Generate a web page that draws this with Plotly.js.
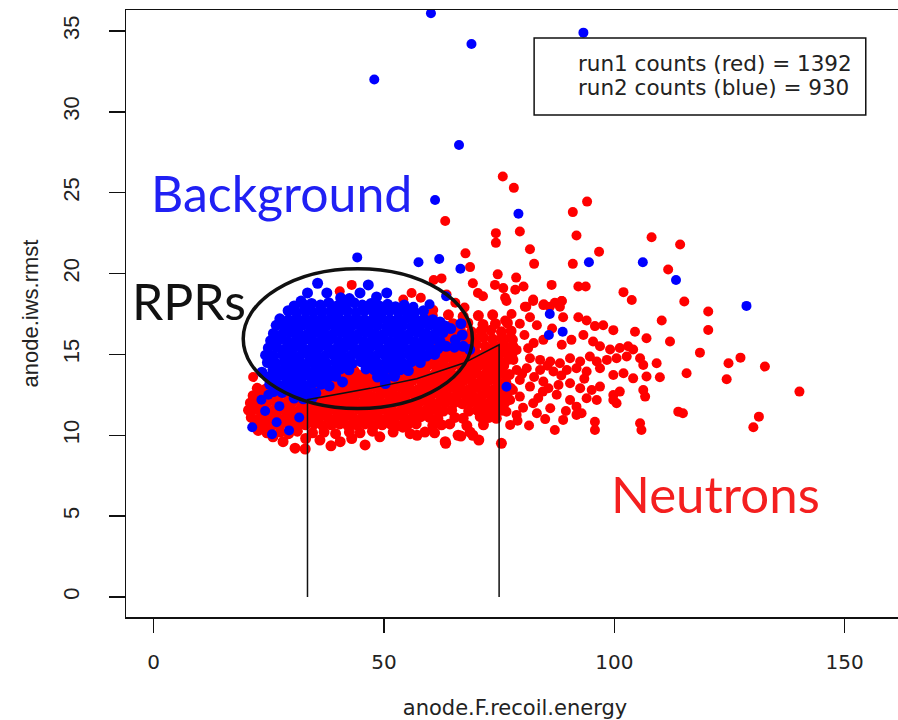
<!DOCTYPE html>
<html>
<head>
<meta charset="utf-8">
<script src="https://cdn.plot.ly/plotly-3.0.1.min.js"></script>
<style>
  html, body { margin: 0; padding: 0; background: #ffffff; overflow: hidden; width: 898px; height: 720px; }
  #plot { width: 910px; height: 720px; }
</style>
</head>
<body>
<div id="plot"></div>
<script>
// Run 2 (blue): dense background cluster, [recoil energy, iws.rmst]
const blueCore = [
  [33.4,18.8],[35.6,19.4],[37.6,18.8],[40.6,18.5],[42.5,18.45],[44.8,18.8],[46.6,19.3],[48.4,18.55],[50.6,18.8],[32.0,18.3],
  [30.5,18.0],[32.5,18.1],[34.3,18.15],[36.2,18.05],[38.0,18.2],[39.8,18.0],[41.7,18.1],[43.5,18.2],[45.3,18.05],[47.2,18.15],[49.0,18.0],[50.8,18.1],[52.5,17.95],[54.4,18.05],
  [29.2,17.7],[31.0,17.6],[32.9,17.7],[34.7,17.6],[36.5,17.7],[38.4,17.65],[40.2,17.6],[42.0,17.7],[43.9,17.6],[45.7,17.7],[47.6,17.65],[49.4,17.6],[51.2,17.7],[53.1,17.6],[54.9,17.65],[56.7,17.6],[58.6,17.7],
  [27.4,17.2],[29.3,17.15],[31.1,17.25],[33.0,17.2],[34.8,17.15],[36.6,17.25],[38.5,17.2],[40.3,17.15],[42.1,17.2],[44.0,17.25],[45.8,17.15],[47.7,17.2],[49.5,17.25],[51.3,17.15],[53.2,17.2],[55.0,17.25],[56.9,17.15],[58.7,17.2],[60.6,17.15],[62.2,17.0],
  [26.6,16.8],[28.4,16.7],[30.3,16.75],[32.1,16.8],[33.9,16.7],[35.8,16.75],[37.6,16.8],[39.4,16.7],[41.3,16.75],[43.1,16.8],[45.0,16.7],[46.8,16.75],[48.6,16.8],[50.5,16.7],[52.3,16.75],[54.1,16.8],[56.0,16.7],[57.8,16.75],[59.7,16.8],[61.5,16.7],[63.3,16.75],[66.7,16.9],
  [26.0,16.3],[27.9,16.25],[29.7,16.35],[31.5,16.3],[33.4,16.25],[35.2,16.35],[37.1,16.3],[38.9,16.25],[40.7,16.35],[42.6,16.3],[44.4,16.25],[46.2,16.35],[48.1,16.3],[49.9,16.25],[51.8,16.35],[53.6,16.3],[55.4,16.25],[57.3,16.35],[59.1,16.3],[61.0,16.25],[62.8,16.35],
  [25.4,15.85],[27.2,15.9],[29.0,15.8],[30.9,15.85],[32.7,15.9],[34.6,15.8],[36.4,15.85],[38.2,15.9],[40.1,15.8],[41.9,15.85],[43.7,15.9],[45.6,15.8],[47.4,15.85],[49.3,15.9],[51.1,15.8],[52.9,15.85],[54.8,15.9],[56.6,15.8],[58.5,15.85],[60.3,15.9],[62.2,15.8],
  [24.9,15.4],[26.7,15.45],[28.6,15.35],[30.4,15.4],[32.2,15.45],[34.1,15.35],[35.9,15.4],[37.8,15.45],[39.6,15.35],[41.4,15.4],[43.3,15.45],[45.1,15.35],[46.9,15.4],[48.8,15.45],[50.6,15.35],[52.5,15.4],[54.3,15.45],[56.1,15.35],[58.0,15.4],[59.8,15.45],[61.7,15.35],[63.5,15.5],[65.3,15.45],[67.2,15.5],[68.6,15.3],
  [24.3,14.95],[26.1,14.9],[28.0,15.0],[29.8,14.95],[31.7,14.9],[33.5,15.0],[35.3,14.95],[37.2,14.9],[39.0,15.0],[40.8,14.95],[42.7,14.9],[44.5,15.0],[46.4,14.95],[48.2,14.9],[50.0,15.0],[51.9,14.95],[53.7,14.9],[55.5,15.0],[57.4,14.95],[59.2,14.9],[61.0,15.0],
  [24.7,14.5],[26.6,14.45],[28.4,14.55],[30.3,14.5],[32.1,14.45],[33.9,14.55],[35.8,14.5],[37.6,14.45],[39.5,14.55],[41.3,14.5],[43.1,14.45],[45.0,14.55],[46.8,14.5],[48.6,14.45],[50.5,14.55],[52.3,14.5],[54.2,14.45],[56.0,14.55],[57.9,14.5],
  [23.5,13.9],[25.9,14.05],[27.7,14.0],[29.5,14.1],[31.4,14.05],[33.2,14.0],[35.1,14.1],[36.9,14.05],[38.7,14.0],[40.6,14.1],[42.4,14.05],[46.1,14.1],[47.9,14.05],[49.8,14.0],[51.6,14.1],[53.5,14.05],[55.3,14.0],
  [24.8,13.6],[26.6,13.55],[28.5,13.65],[30.3,13.6],[32.2,13.55],[34.0,13.65],[35.8,13.6],[37.7,13.55],[39.5,13.65],[48.6,13.6],[50.4,13.55],[52.3,13.65],
  [25.2,13.15],[27.1,13.1],[28.9,13.2],[30.7,13.15],[32.6,13.1],[34.4,13.2],[36.3,13.15],[38.1,13.05],[41.0,13.3],[50.3,13.2],
  [26.0,12.7],[27.9,12.65],[29.7,12.75],[31.6,12.7],[33.4,12.65],[35.2,12.6],
  [30.5,12.3],[32.5,12.25],[34.5,12.35],
  [64.5,16.6],[65.5,15.9],[67.0,16.2]
];

// Run 2 (blue): isolated events
const blueStray = [
  [24.9,12.5],[23.4,12.2],[24.2,11.5],[27.3,11.8],[26.7,10.8],[21.4,10.5],[25.7,10.06],[29.4,10.3],[31.6,11.1],
  [44.2,21.0],[57.5,20.7],[62.0,20.9],[66.6,20.3],[63.5,18.6],[59.9,18.1],[56.4,17.95],
  [76.6,13.0],[86.0,17.5],[85.8,16.2],[88.8,16.4],[113.4,19.6],[128.7,18.0],[94.5,20.7],[106.2,20.7],
  [79.2,23.7],[61.1,24.55],[66.3,27.95],[47.9,32.0],[60.2,36.1],[69.0,34.2],[93.3,34.9]
];

// Run 1 (red): dense neutron band
const redCore = [
  [50.2,14.25],[52.0,14.2],[53.9,14.3],[55.7,14.25],[57.6,14.2],[59.4,14.3],[61.3,14.25],[63.1,14.2],[64.9,14.3],[66.8,14.25],[68.6,14.2],[70.5,14.3],[72.3,14.25],[74.1,14.2],[76.0,14.3],
  [43.5,14.0],[44.5,13.5],[42.0,13.3],[45.5,13.2],
  [40.6,13.8],[42.5,13.85],[44.3,13.75],[46.1,13.8],[48.0,13.85],[49.8,13.75],[51.7,13.8],[53.5,13.85],[55.3,13.75],[57.2,13.8],[59.0,13.85],[60.9,13.75],[62.7,13.8],[64.5,13.85],[66.4,13.75],[68.2,13.8],[70.1,13.85],[71.9,13.75],[73.7,13.8],[75.6,13.85],[77.2,13.75],
  [36.0,13.35],[37.8,13.3],[39.7,13.4],[41.5,13.35],[43.4,13.3],[45.2,13.4],[47.0,13.35],[48.9,13.3],[50.7,13.4],[52.6,13.35],[54.4,13.3],[56.2,13.4],[58.1,13.35],[59.9,13.3],[61.8,13.4],[63.6,13.35],[65.4,13.3],[67.3,13.4],[69.1,13.35],[71.0,13.3],[72.8,13.4],[74.6,13.35],[76.4,13.3],
  [22.5,12.9],[24.3,12.85],[26.2,12.95],[28.0,12.9],[29.9,12.85],[31.7,12.95],[33.5,12.9],[35.4,12.85],[37.2,12.95],[39.1,12.9],[40.9,12.85],[42.7,12.95],[44.6,12.9],[46.4,12.85],[48.3,12.95],[50.1,12.9],[51.9,12.85],[53.8,12.95],[55.6,12.9],[57.5,12.85],[59.3,12.95],[61.1,12.9],[63.0,12.85],[64.8,12.95],[66.7,12.9],[68.5,12.85],[70.3,12.95],[72.2,12.9],[74.0,12.85],[75.9,12.95],[77.5,12.9],
  [21.6,12.45],[23.4,12.5],[25.3,12.4],[27.1,12.45],[29.0,12.5],[30.8,12.4],[32.6,12.45],[34.5,12.5],[36.3,12.4],[38.2,12.45],[40.0,12.5],[41.8,12.4],[43.7,12.45],[45.5,12.5],[47.4,12.4],[49.2,12.45],[51.0,12.5],[52.9,12.4],[54.7,12.45],[56.6,12.5],[58.4,12.4],[60.2,12.45],[62.1,12.5],[63.9,12.4],[65.8,12.45],[67.6,12.5],[69.4,12.4],[71.3,12.45],[73.1,12.5],[75.0,12.4],[76.7,12.45],
  [21.0,12.0],[22.9,11.95],[24.7,12.05],[26.6,12.0],[28.4,11.95],[30.2,12.05],[32.1,12.0],[33.9,11.95],[35.8,12.05],[37.6,12.0],[39.4,11.95],[41.3,12.05],[43.1,12.0],[45.0,11.95],[46.8,12.05],[48.6,12.0],[50.5,11.95],[52.3,12.05],[54.2,12.0],[56.0,11.95],[57.8,12.05],[59.7,12.0],[61.5,11.95],[63.4,12.05],[65.2,12.0],[67.0,11.95],[68.9,12.05],[70.7,12.0],[72.6,11.95],[74.4,12.05],[76.2,12.0],
  [20.6,11.55],[22.4,11.6],[24.2,11.5],[26.1,11.55],[27.9,11.6],[29.8,11.5],[31.6,11.55],[33.4,11.6],[35.3,11.5],[37.1,11.55],[39.0,11.6],[40.8,11.5],[42.6,11.55],[44.5,11.6],[46.3,11.5],[48.2,11.55],[50.0,11.6],[51.8,11.5],[53.7,11.55],[55.5,11.6],[57.4,11.5],[59.2,11.55],[61.0,11.6],[62.9,11.5],[64.7,11.55],[68.4,11.5],[70.2,11.55],[72.1,11.6],[73.9,11.5],[75.6,11.55],
  [21.2,11.1],[23.1,11.05],[24.9,11.15],[26.8,11.1],[28.6,11.05],[30.4,11.15],[32.3,11.1],[34.1,11.05],[36.0,11.15],[37.8,11.1],[39.6,11.05],[41.5,11.15],[43.3,11.1],[45.2,11.05],[47.0,11.15],[48.8,11.1],[50.7,11.05],[52.5,11.15],[54.4,11.1],[56.2,11.05],[58.0,11.15],[59.9,11.1],[61.7,11.05],[65.4,11.1],[67.2,11.05],[70.9,11.15],[72.8,11.1],[74.4,11.05],
  [22.0,10.65],[23.8,10.7],[25.7,10.6],[27.5,10.65],[29.4,10.7],[31.2,10.6],[33.0,10.65],[34.9,10.7],[36.7,10.6],[38.6,10.65],[40.4,10.7],[42.2,10.6],[44.1,10.65],[45.9,10.7],[47.8,10.6],[49.6,10.65],[51.4,10.7],[53.3,10.6],[55.1,10.65],[57.0,10.7],[60.6,10.6],[62.5,10.65],[64.3,10.7],[68.0,10.6],[71.6,10.65],
  [22.7,10.3],[24.6,10.15],[27.5,10.2],[29.3,10.1],[31.2,10.25],[34.5,10.15],[37.0,10.2],[39.5,10.1],[42.5,10.2],[44.8,10.15],[47.5,10.25],[52.0,10.2],[54.1,10.5],[55.7,10.1],[58.9,10.2],[61.0,10.15],[66.1,10.0],[68.7,10.2],[69.3,10.0],
  [25.9,9.9],[28.1,9.6],[33.0,9.8],[36.1,9.7],[40.5,9.6],[43.0,9.8],[49.1,9.9],[57.2,10.0],[63.3,9.6],[66.7,9.95],[70.6,9.7],[75.5,9.5],
  [30.7,9.2],[32.9,9.15],[45.9,9.4],[38.5,9.35],[63.4,9.5],
  [60.5,17.4],[64.0,17.45],[67.2,17.35],[70.5,17.4],[73.6,17.45],
  [65.0,16.9],[68.2,16.95],[71.5,16.85],[74.2,16.9],[76.8,16.95],
  [64.6,16.45],[66.6,16.5],[69.0,16.4],[71.1,16.45],[73.2,16.5],[75.5,16.4],[77.6,16.45],
  [63.5,16.0],[65.6,16.05],[67.6,15.95],[69.6,16.0],[71.6,16.05],[73.6,15.95],[75.6,16.0],[77.5,16.05],
  [62.0,15.55],[64.0,15.6],[66.0,15.5],[68.0,15.55],[70.0,15.6],[72.0,15.5],[74.0,15.55],[76.0,15.6],[78.0,15.5],
  [61.8,15.1],[63.8,15.15],[65.8,15.05],[67.8,15.1],[69.8,15.15],[71.8,15.05],[73.8,15.1],[75.8,15.15],[77.8,15.05],
  [57.0,14.65],[59.0,14.7],[61.0,14.6],[63.0,14.65],[65.0,14.7],[67.0,14.6],[69.0,14.65],[71.0,14.7],[73.0,14.6],[75.0,14.65],[77.0,14.7]
];

// Run 1 (red): spread of events above 75 keV
const redSpread = [
  [76.6,18.3],[80.6,17.95],[82.4,18.3],[84.6,18.05],[87.1,18.2],[88.6,18.3],[77.7,17.5],[81.7,17.3],[83.2,16.8],[79.5,16.9],[76.3,17.1],
  [92.2,17.3],[94.0,17.1],[95.8,16.75],[97.6,16.8],[99.8,16.5],[104.5,16.4],[107.0,16.0],[110.3,17.1],[112.1,15.8],[88.9,17.3],
  [84.6,15.9],[88.6,15.6],[90.7,15.9],[93.3,16.2],[95.4,15.8],[96.9,15.5],[99.1,15.3],[101.2,15.4],[103.0,15.5],[104.1,15.3],
  [80.5,16.2],[82.5,15.7],[78.0,15.9],[86.5,16.6],
  [76.6,15.48],[78.8,15.28],[81.3,15.38],[78.1,14.66],[81.7,14.76],[83.9,14.66],[86.1,14.56],[88.2,14.45],[90.4,14.76],[92.6,14.56],[94.7,14.87],[96.2,14.56],[98.4,14.66],[100.5,14.76],[102.7,14.87],[105.6,14.76],[106.3,14.35],[109.2,14.45],
  [75.9,14.25],[78.8,14.04],[81.0,14.14],[83.9,14.04],[86.8,13.94],[89.7,14.04],[91.8,14.14],[94.0,13.94],[96.9,14.14],[99.8,13.73],[102.0,13.83],[104.1,13.52],[107.0,13.63],[109.9,13.59],
  [76.6,13.22],[79.5,13.42],[81.7,13.01],[84.6,13.32],[85.7,12.91],[87.9,13.11],[90.4,13.22],[92.6,12.91],[95.1,12.8],[96.9,13.01],[99.8,12.49],[101.2,12.7],[106.3,12.8],[106.7,12.39],
  [77.4,12.18],[79.5,12.39],[82.4,11.98],[86.1,11.67],[90.4,12.18],[91.8,11.77],[94.0,12.29],[96.2,12.18],[99.8,12.18],[100.5,11.98],
  [76.6,11.46],[78.8,11.26],[83.2,11.36],[91.8,11.26],[92.9,11.36],
  [77.4,10.64],[87.1,10.33],[88.9,10.95],[95.8,10.84],[95.8,10.33],[105.6,10.74],[105.9,10.33],
  [80.0,13.8],[82.6,13.6],[85.5,14.3],[87.5,12.5],[83.5,12.3],[80.2,11.7],[85.0,11.0],[89.5,11.5],[78.0,12.8],[93.5,13.5],[88.5,13.7],[79.0,10.9],[81.5,10.6],[84.5,12.7]
];

// Run 1 (red): isolated high-rmst and high-energy events
const redStray = [
  [103.8,18.37],[115.2,18.27],[120.4,17.65],[120.4,16.51],[118.6,15.11],[124.8,14.45],[127.4,14.8],[132.7,14.25],[124.4,13.46],[115.7,13.83],
  [140.2,12.7],[113.9,11.46],[114.9,11.36],[131.4,11.15],[130.2,10.5],
  [75.8,26.0],[78.2,25.3],[94.1,24.45],[91.0,23.8],[63.3,23.25],[79.5,22.6],[91.8,22.35],[108.1,22.25],[74.3,22.5],[74.3,21.9],
  [114.3,21.8],[81.7,21.5],[96.7,21.35],[67.7,21.25],[82.6,20.6],[91.0,20.6],[68.7,20.4],[111.7,20.25],[74.7,19.95],[78.7,19.75],
  [60.8,19.6],[62.5,19.7],[69.3,19.4],[74.1,19.3],[75.9,19.1],[78.5,19.0],[80.3,19.2],[86.4,19.3],[92.2,19.2],[93.8,19.2],
  [102.0,18.85],[70.4,18.8],[71.5,18.6],[76.3,18.5],[82.4,18.4],[80.9,17.95],[84.7,18.1],[88.6,18.3],[86.0,17.95],[88.2,17.95],
  [43.0,19.3],[40.4,18.9],[54.2,18.4],[56.0,18.8],[63.6,18.7],[60.7,17.75],[21.6,13.6],[65.5,18.2],[67.5,17.9],[58.0,18.5]
];

// Axis ticks and annotation text
const xTicks = [0, 50, 100, 150];
const yTicks = [0, 5, 10, 15, 20, 25, 30, 35];
const countText = ['run1 counts (red) = 1392', 'run2 counts (blue) = 930'];
const countY = [33.02, 31.48];

// Selection cut drawn over the scatter: two energy bounds joined by a sloped floor
const cutX = [33.4, 33.4, 47.0, 57.1, 67.2, 75.0, 75.0];
const cutY = [0, 12.2, 12.9, 13.5, 14.45, 15.6, 0];

const dotTrace = (pts, color, size) => ({
  type: 'scatter',
  mode: 'markers',
  x: pts.map(p => p[0]),
  y: pts.map(p => p[1]),
  marker: { size: size, color: color, line: { width: 0 } },
  hoverinfo: 'skip'
});

const cutPath = cutX.map((x, i) => (i ? 'L' : 'M') + x + ',' + cutY[i]).join(' ');

const traces = [
  dotTrace(redCore, '#ff0000', 11),
  dotTrace(redSpread.concat(redStray), '#ff0000', 10),
  dotTrace(blueCore, '#0000ff', 11),
  dotTrace(blueStray, '#0000ff', 10)
];

const labelFont = (size, color) => ({ family: 'Lato, sans-serif', size: size, color: color });

const layout = {
  width: 910,
  height: 720,
  margin: { l: 126, r: 6, t: 10, b: 103 },
  paper_bgcolor: '#ffffff',
  plot_bgcolor: '#ffffff',
  showlegend: false,
  font: { family: 'Liberation Sans, Arial, sans-serif', color: '#222' },
  xaxis: {
    range: [-6, 162.9],
    tickvals: xTicks,
    ticks: 'outside', ticklen: 14, tickwidth: 1.3, tickcolor: '#111',
    showgrid: false, zeroline: false,
    showline: true, mirror: true, linecolor: '#111', linewidth: 1.5,
    tickfont: { family: 'DejaVu Sans, sans-serif', size: 20, color: '#222' },
    ticklabelstandoff: 12,
    title: { text: 'anode.F.recoil.energy', font: { family: 'DejaVu Sans, sans-serif', size: 21, color: '#222' }, standoff: 29 }
  },
  yaxis: {
    range: [-1.24, 36.3],
    tickvals: yTicks,
    ticks: 'outside', ticklen: 16, tickwidth: 1.3, tickcolor: '#111',
    tickangle: -90,
    showgrid: false, zeroline: false,
    showline: true, mirror: true, linecolor: '#111', linewidth: 1.5,
    tickfont: { family: 'Liberation Sans, Arial, sans-serif', size: 22, color: '#222' },
    ticklabelstandoff: 21,
    title: { text: 'anode.iws.rmst', font: { family: 'Liberation Sans, Arial, sans-serif', size: 22, color: '#222' }, standoff: 14 }
  },
  shapes: [
    { type: 'path', xref: 'x', yref: 'y', path: cutPath, line: { color: '#111', width: 1.5 } },
    { type: 'circle', xref: 'x', yref: 'y', x0: 19.45, x1: 69.2, y0: 11.65, y1: 20.3, line: { color: '#111', width: 3.5 } },
    { type: 'rect', xref: 'x', yref: 'y', x0: 82.6, x1: 154.6, y0: 29.8, y1: 34.57, line: { color: '#111', width: 1.5 }, fillcolor: 'rgba(0,0,0,0)' }
  ],
  annotations: countText.map((t, i) => ({
    xref: 'x', yref: 'y', x: 91.6, y: countY[i], xanchor: 'left', yanchor: 'middle', showarrow: false,
    text: t, font: { family: 'DejaVu Sans, sans-serif', size: 21.5, color: '#222' }
  })).concat([
    { xref: 'x', yref: 'y', x: -0.9, y: 25.0, xanchor: 'left', yanchor: 'middle', showarrow: false,
      text: 'Background', font: labelFont(50, '#2020f4') },
    { xref: 'x', yref: 'y', x: -5.2, y: 18.3, xanchor: 'left', yanchor: 'middle', showarrow: false,
      text: 'RPRs', font: labelFont(50, '#111111') },
    { xref: 'x', yref: 'y', x: 98.9, y: 6.4, xanchor: 'left', yanchor: 'middle', showarrow: false,
      text: 'Neutrons', font: labelFont(51, '#f41f1f') }
  ])
};

Plotly.newPlot('plot', traces, layout, { staticPlot: true, displayModeBar: false });
</script>
</body>
</html>
